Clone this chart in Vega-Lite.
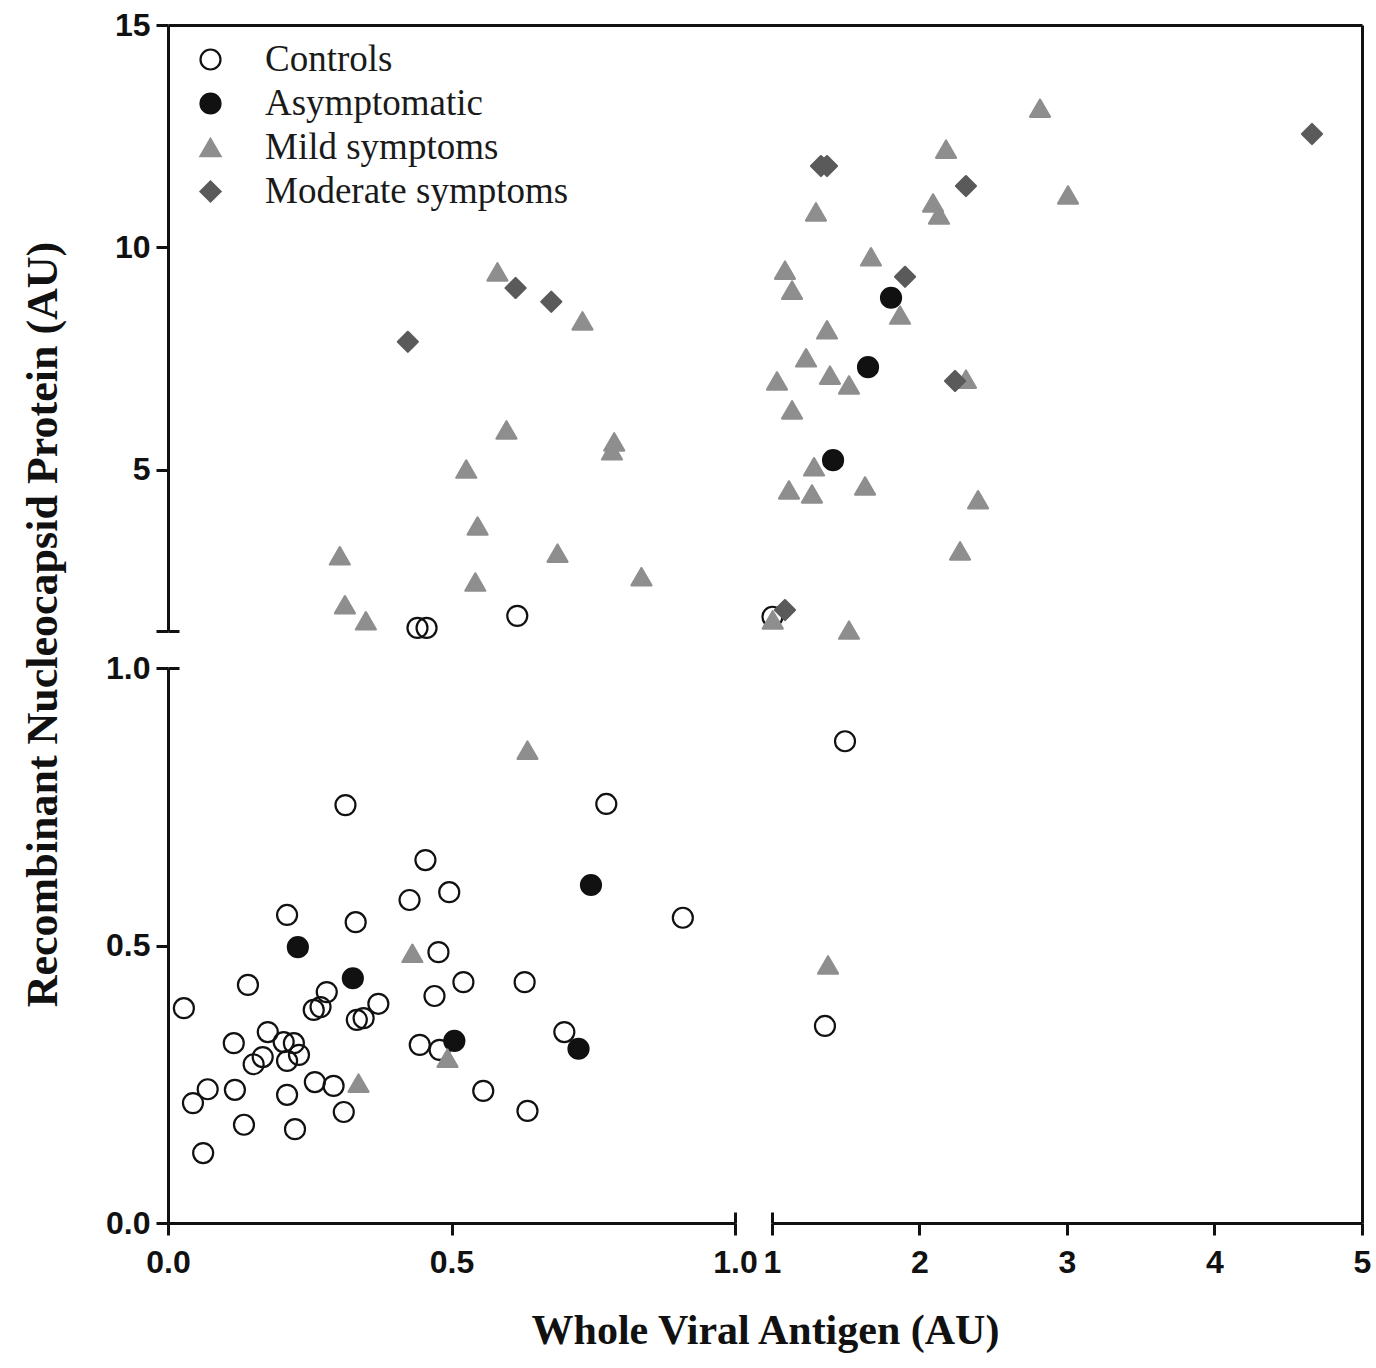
{
  "$schema": "https://vega.github.io/schema/vega-lite/v6.json",
  "width": 1194,
  "height": 1198,
  "autosize": "none",
  "padding": {"left": 168, "top": 25, "right": 14, "bottom": 145},
  "background": "white",
  "data": {
    "values": [
      {"group": "Controls", "antigen": 0.454, "protein": 0.654},
      {"group": "Controls", "antigen": 0.426, "protein": 0.582},
      {"group": "Controls", "antigen": 0.496, "protein": 0.596},
      {"group": "Controls", "antigen": 0.210, "protein": 0.555},
      {"group": "Controls", "antigen": 0.331, "protein": 0.542},
      {"group": "Controls", "antigen": 0.477, "protein": 0.488},
      {"group": "Controls", "antigen": 0.141, "protein": 0.429},
      {"group": "Controls", "antigen": 0.521, "protein": 0.434},
      {"group": "Controls", "antigen": 0.629, "protein": 0.434},
      {"group": "Controls", "antigen": 0.028, "protein": 0.387},
      {"group": "Controls", "antigen": 0.280, "protein": 0.416},
      {"group": "Controls", "antigen": 0.257, "protein": 0.384},
      {"group": "Controls", "antigen": 0.269, "protein": 0.389},
      {"group": "Controls", "antigen": 0.470, "protein": 0.409},
      {"group": "Controls", "antigen": 0.371, "protein": 0.395},
      {"group": "Controls", "antigen": 0.333, "protein": 0.366},
      {"group": "Controls", "antigen": 0.345, "protein": 0.369},
      {"group": "Controls", "antigen": 0.176, "protein": 0.344},
      {"group": "Controls", "antigen": 0.116, "protein": 0.324},
      {"group": "Controls", "antigen": 0.204, "protein": 0.326},
      {"group": "Controls", "antigen": 0.222, "protein": 0.324},
      {"group": "Controls", "antigen": 0.151, "protein": 0.286},
      {"group": "Controls", "antigen": 0.167, "protein": 0.299},
      {"group": "Controls", "antigen": 0.210, "protein": 0.292},
      {"group": "Controls", "antigen": 0.231, "protein": 0.303},
      {"group": "Controls", "antigen": 0.444, "protein": 0.321},
      {"group": "Controls", "antigen": 0.479, "protein": 0.312},
      {"group": "Controls", "antigen": 0.699, "protein": 0.344},
      {"group": "Controls", "antigen": 0.070, "protein": 0.241},
      {"group": "Controls", "antigen": 0.044, "protein": 0.216},
      {"group": "Controls", "antigen": 0.118, "protein": 0.240},
      {"group": "Controls", "antigen": 0.210, "protein": 0.231},
      {"group": "Controls", "antigen": 0.259, "protein": 0.254},
      {"group": "Controls", "antigen": 0.292, "protein": 0.247},
      {"group": "Controls", "antigen": 0.556, "protein": 0.238},
      {"group": "Controls", "antigen": 0.134, "protein": 0.177},
      {"group": "Controls", "antigen": 0.224, "protein": 0.169},
      {"group": "Controls", "antigen": 0.310, "protein": 0.200},
      {"group": "Controls", "antigen": 0.634, "protein": 0.202},
      {"group": "Controls", "antigen": 0.062, "protein": 0.126},
      {"group": "Controls", "antigen": 0.313, "protein": 0.753},
      {"group": "Controls", "antigen": 0.773, "protein": 0.755},
      {"group": "Controls", "antigen": 0.908, "protein": 0.550},
      {"group": "Controls", "antigen": 1.495, "protein": 0.868},
      {"group": "Controls", "antigen": 1.359, "protein": 0.355},
      {"group": "Controls", "antigen": 0.440, "protein": 1.45},
      {"group": "Controls", "antigen": 0.456, "protein": 1.45},
      {"group": "Controls", "antigen": 0.616, "protein": 1.72},
      {"group": "Controls", "antigen": 1.003, "protein": 1.70},
      {"group": "Asymptomatic", "antigen": 0.229, "protein": 0.497},
      {"group": "Asymptomatic", "antigen": 0.326, "protein": 0.441},
      {"group": "Asymptomatic", "antigen": 0.505, "protein": 0.328},
      {"group": "Asymptomatic", "antigen": 0.724, "protein": 0.314},
      {"group": "Asymptomatic", "antigen": 0.746, "protein": 0.609},
      {"group": "Asymptomatic", "antigen": 1.807, "protein": 8.87},
      {"group": "Asymptomatic", "antigen": 1.651, "protein": 7.31},
      {"group": "Asymptomatic", "antigen": 1.414, "protein": 5.22},
      {"group": "Mild symptoms", "antigen": 0.431, "protein": 0.486},
      {"group": "Mild symptoms", "antigen": 0.493, "protein": 0.297},
      {"group": "Mild symptoms", "antigen": 0.336, "protein": 0.252},
      {"group": "Mild symptoms", "antigen": 0.634, "protein": 0.852},
      {"group": "Mild symptoms", "antigen": 1.380, "protein": 0.465},
      {"group": "Mild symptoms", "antigen": 0.581, "protein": 9.45},
      {"group": "Mild symptoms", "antigen": 0.731, "protein": 8.35},
      {"group": "Mild symptoms", "antigen": 0.597, "protein": 5.90},
      {"group": "Mild symptoms", "antigen": 0.526, "protein": 5.02},
      {"group": "Mild symptoms", "antigen": 0.787, "protein": 5.63},
      {"group": "Mild symptoms", "antigen": 0.783, "protein": 5.43},
      {"group": "Mild symptoms", "antigen": 0.546, "protein": 3.74},
      {"group": "Mild symptoms", "antigen": 0.303, "protein": 3.07},
      {"group": "Mild symptoms", "antigen": 0.687, "protein": 3.13},
      {"group": "Mild symptoms", "antigen": 0.542, "protein": 2.48},
      {"group": "Mild symptoms", "antigen": 0.835, "protein": 2.60},
      {"group": "Mild symptoms", "antigen": 0.312, "protein": 1.97},
      {"group": "Mild symptoms", "antigen": 0.349, "protein": 1.61},
      {"group": "Mild symptoms", "antigen": 2.817, "protein": 13.13},
      {"group": "Mild symptoms", "antigen": 2.180, "protein": 12.21},
      {"group": "Mild symptoms", "antigen": 3.007, "protein": 11.18},
      {"group": "Mild symptoms", "antigen": 2.092, "protein": 11.0},
      {"group": "Mild symptoms", "antigen": 2.132, "protein": 10.73},
      {"group": "Mild symptoms", "antigen": 1.298, "protein": 10.80},
      {"group": "Mild symptoms", "antigen": 1.671, "protein": 9.79},
      {"group": "Mild symptoms", "antigen": 1.088, "protein": 9.49},
      {"group": "Mild symptoms", "antigen": 1.136, "protein": 9.04},
      {"group": "Mild symptoms", "antigen": 1.868, "protein": 8.48},
      {"group": "Mild symptoms", "antigen": 1.373, "protein": 8.15},
      {"group": "Mild symptoms", "antigen": 1.231, "protein": 7.52},
      {"group": "Mild symptoms", "antigen": 1.393, "protein": 7.13},
      {"group": "Mild symptoms", "antigen": 1.522, "protein": 6.91},
      {"group": "Mild symptoms", "antigen": 1.034, "protein": 7.0},
      {"group": "Mild symptoms", "antigen": 2.315, "protein": 7.04},
      {"group": "Mild symptoms", "antigen": 1.136, "protein": 6.35},
      {"group": "Mild symptoms", "antigen": 1.285, "protein": 5.07},
      {"group": "Mild symptoms", "antigen": 1.115, "protein": 4.55},
      {"group": "Mild symptoms", "antigen": 1.271, "protein": 4.46},
      {"group": "Mild symptoms", "antigen": 1.631, "protein": 4.64},
      {"group": "Mild symptoms", "antigen": 2.397, "protein": 4.33},
      {"group": "Mild symptoms", "antigen": 2.275, "protein": 3.18},
      {"group": "Mild symptoms", "antigen": 1.005, "protein": 1.63},
      {"group": "Mild symptoms", "antigen": 1.522, "protein": 1.40},
      {"group": "Moderate symptoms", "antigen": 0.423, "protein": 7.88},
      {"group": "Moderate symptoms", "antigen": 0.613, "protein": 9.09},
      {"group": "Moderate symptoms", "antigen": 0.676, "protein": 8.78},
      {"group": "Moderate symptoms", "antigen": 4.661, "protein": 12.55},
      {"group": "Moderate symptoms", "antigen": 1.332, "protein": 11.83},
      {"group": "Moderate symptoms", "antigen": 1.373, "protein": 11.83},
      {"group": "Moderate symptoms", "antigen": 2.315, "protein": 11.38},
      {"group": "Moderate symptoms", "antigen": 1.902, "protein": 9.34},
      {"group": "Moderate symptoms", "antigen": 2.241, "protein": 7.0},
      {"group": "Moderate symptoms", "antigen": 1.088, "protein": 1.85}
    ]
  },
  "layer": [
    {
      "mark": {"type": "point", "filled": true, "opacity": 1, "strokeWidth": 2.2, "strokeJoin": "round"},
      "encoding": {
        "x": {
          "field": "antigen",
          "type": "quantitative",
          "scale": {"domain": [0, 1, 1.000001, 5], "range": [0, 567, 604, 1194], "nice": false, "zero": false},
          "axis": {
            "orient": "bottom",
            "values": [0, 0.5, 1, 1.000001, 2, 3, 4, 5],
            "labelExpr": "datum.value <= 1 ? format(datum.value, '.1f') : format(datum.value, '.0f')",
            "domainDash": [567, 37, 2000],
            "labelPadding": 12,
            "title": "Whole Viral Antigen (AU)",
            "titlePadding": 32
          }
        },
        "y": {
          "field": "protein",
          "type": "quantitative",
          "scale": {"domain": [0, 1, 1.38, 15], "range": [1198, 643, 606, 0], "nice": false, "zero": false},
          "axis": {
            "orient": "left",
            "values": [0, 0.5, 1, 1.38, 5, 10, 15],
            "labelExpr": "datum.value <= 1 ? format(datum.value, '.1f') : (datum.value < 2 ? '' : format(datum.value, '.0f'))",
            "domainDash": [555, 37, 2000],
            "labelPadding": 6,
            "title": "Recombinant Nucleocapsid Protein (AU)",
            "titleFontSize": 44,
            "titlePadding": 40
          }
        },
        "shape": {
          "field": "group",
          "type": "nominal",
          "sort": null,
          "scale": {
            "domain": ["Controls", "Asymptomatic", "Mild symptoms", "Moderate symptoms"],
            "range": ["circle", "circle", "triangle-up", "diamond"]
          },
          "legend": {"title": null}
        },
        "fill": {
          "field": "group",
          "type": "nominal",
          "sort": null,
          "scale": {
            "domain": ["Controls", "Asymptomatic", "Mild symptoms", "Moderate symptoms"],
            "range": ["transparent", "#111111", "#8e8e8e", "#5a5a5a"]
          },
          "legend": {"title": null}
        },
        "stroke": {
          "field": "group",
          "type": "nominal",
          "sort": null,
          "scale": {
            "domain": ["Controls", "Asymptomatic", "Mild symptoms", "Moderate symptoms"],
            "range": ["#111111", "#111111", "#8e8e8e", "#5a5a5a"]
          },
          "legend": {"title": null}
        },
        "size": {
          "field": "group",
          "type": "nominal",
          "sort": null,
          "scale": {
            "domain": ["Controls", "Asymptomatic", "Mild symptoms", "Moderate symptoms"],
            "range": [400, 400, 380, 640]
          },
          "legend": {"title": null}
        }
      }
    },
    {
      "mark": {"type": "point", "opacity": 0},
      "encoding": {
        "x": {
          "field": "antigen",
          "type": "quantitative",
          "axis": {"orient": "top", "labels": false, "ticks": false, "title": null, "domainDash": []}
        },
        "y": {
          "field": "protein",
          "type": "quantitative",
          "axis": {"orient": "right", "labels": false, "ticks": false, "title": null, "domainDash": []}
        }
      }
    },
    {
      "mark": {"type": "point", "opacity": 0},
      "encoding": {
        "x": {
          "field": "antigen",
          "type": "quantitative",
          "axis": {"orient": "bottom", "values": [1, 1.000001], "labels": false, "domain": false, "tickSize": -11, "title": null}
        },
        "y": {
          "field": "protein",
          "type": "quantitative",
          "axis": {"orient": "left", "values": [1, 1.38], "labels": false, "domain": false, "tickSize": -11, "title": null}
        }
      }
    }
  ],
  "resolve": {"axis": {"x": "independent", "y": "independent"}},
  "config": {
    "view": {"stroke": null},
    "axis": {
      "grid": false,
      "domainColor": "#111111",
      "domainWidth": 3,
      "tickColor": "#111111",
      "tickWidth": 3,
      "tickSize": 12,
      "labelFont": "Liberation Sans",
      "labelFontWeight": "bold",
      "labelFontSize": 32,
      "labelColor": "#111111",
      "labelOverlap": false,
      "labelFlush": false,
      "labelBound": false,
      "titleFont": "Liberation Serif",
      "titleFontWeight": "bold",
      "titleFontSize": 42,
      "titleColor": "#111111"
    },
    "legend": {
      "orient": "none",
      "legendX": 24,
      "legendY": 16,
      "padding": 0,
      "labelFont": "Liberation Serif",
      "labelFontSize": 37,
      "labelColor": "#1a1a1a",
      "labelLimit": 600,
      "labelOffset": 36,
      "rowPadding": 6,
      "symbolOpacity": 1,
      "symbolStrokeWidth": 2.2
    }
  }
}
